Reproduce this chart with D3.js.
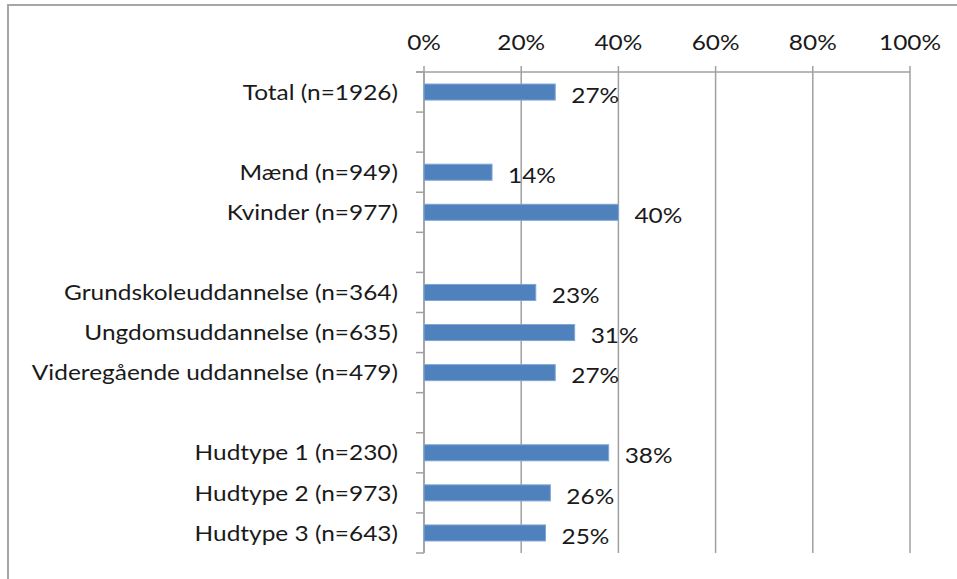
<!DOCTYPE html>
<html>
<head>
<meta charset="utf-8">
<script src="https://cdn.jsdelivr.net/npm/d3@7"></script>
<style>
  body { margin: 0; background: #fff; }
  svg { display: block; }
  text { font-family: Lato, "Open Sans", sans-serif; fill: #1a1a1a; }
</style>
</head>
<body>
<div class="svg-container"></div>
<script>
var width = 957, height = 579;

// categories incl. empty gap rows, in order from top
var categories = ["Total (n=1926)", "", "Mænd (n=949)", "Kvinder (n=977)", " ",
  "Grundskoleuddannelse (n=364)", "Ungdomsuddannelse (n=635)", "Videregående uddannelse (n=479)", "  ",
  "Hudtype 1 (n=230)", "Hudtype 2 (n=973)", "Hudtype 3 (n=643)"];
var values = [27, null, 14, 40, null, 23, 31, 27, null, 38, 26, 25];
var tickValues = [0, 20, 40, 60, 80, 100];

var fontSize = 22, stretch = 1.11;

var svg = d3.select('.svg-container').append('svg')
  .attr('width', width)
  .attr('height', height);

// outer frame (only left and top visible)
svg.append('path')
  .attr('d', 'M8,' + height + 'V5H' + width)
  .attr('fill', 'none')
  .attr('stroke', '#a6a6a6')
  .attr('stroke-width', 2);

var plotLeft = 424, plotRight = 910, plotTop = 72, plotBottom = 553;

var x = d3.scaleLinear().domain([0, 100]).range([plotLeft, plotRight]);
var y = d3.scaleBand().domain(categories).range([plotTop, plotBottom]).paddingInner(0.6).paddingOuter(0.3);
var band = (plotBottom - plotTop) / categories.length;

function label(g, px, py, anchor, str) {
  g.append('text')
    .attr('transform', 'translate(' + px + ',' + py + ') scale(' + stretch + ',1)')
    .attr('text-anchor', anchor)
    .attr('dy', '0.35em')
    .attr('font-size', fontSize)
    .text(str);
}

// vertical gridlines + top ticks
svg.append('g').selectAll('line')
  .data(tickValues)
  .enter().append('line')
  .attr('x1', function(d) { return x(d); })
  .attr('x2', function(d) { return x(d); })
  .attr('y1', plotTop - 6)
  .attr('y2', plotBottom)
  .attr('stroke', '#a0a0a0')
  .attr('stroke-width', 1.5);

// top axis line
svg.append('line')
  .attr('x1', plotLeft - 8).attr('x2', plotRight)
  .attr('y1', plotTop).attr('y2', plotTop)
  .attr('stroke', '#a0a0a0').attr('stroke-width', 1.5);

// top tick labels
var tickG = svg.append('g');
tickValues.forEach(function(d) { label(tickG, x(d), 42, 'middle', d + '%'); });

// left axis with boundary ticks
svg.append('line')
  .attr('x1', plotLeft).attr('x2', plotLeft)
  .attr('y1', plotTop).attr('y2', plotBottom)
  .attr('stroke', '#a0a0a0').attr('stroke-width', 1.5);

svg.append('g').selectAll('line')
  .data(d3.range(categories.length + 1))
  .enter().append('line')
  .attr('x1', plotLeft - 8).attr('x2', plotLeft)
  .attr('y1', function(i) { return plotTop + i * band; })
  .attr('y2', function(i) { return plotTop + i * band; })
  .attr('stroke', '#a0a0a0').attr('stroke-width', 1.5);

var rows = categories.map(function(c, i) { return { cat: c, v: values[i] }; })
  .filter(function(d) { return d.v !== null; });

// category labels
var catG = svg.append('g');
rows.forEach(function(d) { label(catG, 398, y(d.cat) + y.bandwidth() / 2, 'end', d.cat); });

// bars
svg.append('g').selectAll('rect')
  .data(rows)
  .enter().append('rect')
  .attr('x', x(0))
  .attr('y', function(d) { return y(d.cat); })
  .attr('width', function(d) { return x(d.v) - x(0); })
  .attr('height', y.bandwidth())
  .attr('fill', '#4f81bd')
  .attr('stroke', '#7ea6d6')
  .attr('stroke-width', 1);

// value labels
var valG = svg.append('g');
rows.forEach(function(d) { label(valG, x(d.v) + 16, y(d.cat) + y.bandwidth() / 2 + 3, 'start', d.v + '%'); });
</script>
</body>
</html>
